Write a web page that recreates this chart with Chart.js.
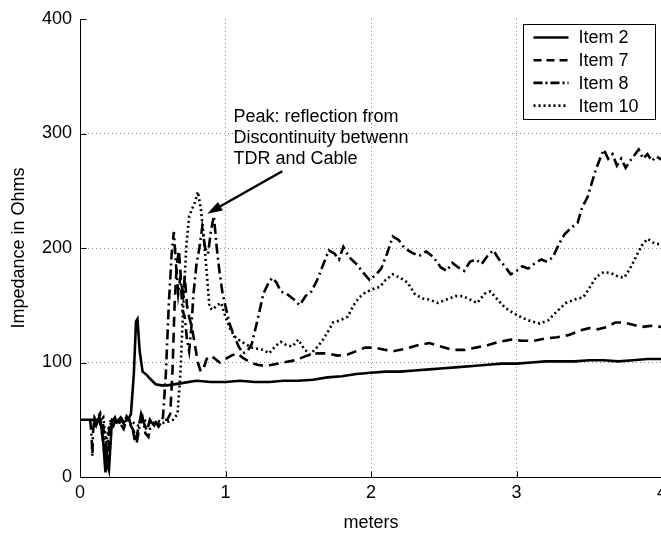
<!DOCTYPE html>
<html>
<head>
<meta charset="utf-8">
<script src="https://cdn.jsdelivr.net/npm/chart.js@4.4.0/dist/chart.umd.min.js"></script>
<style>
    html, body { margin: 0; padding: 0; background: #fff; overflow: hidden; }
    #wrap { position: relative; width: 662px; height: 534px; }
</style>
</head>
<body>
<div id="wrap"><canvas id="chart"></canvas></div>
<script>
// TDR impedance profile

const xTicks = [0, 1, 2, 3, 4];
const yTicks = [0, 100, 200, 300, 400];

// Item 2 (solid)
const item2X = [0, 0.1, 0.14, 0.16, 0.175, 0.185, 0.2, 0.22, 0.25, 0.28, 0.3, 0.33, 0.35, 0.37, 0.385, 0.395, 0.41, 0.43, 0.46, 0.48, 0.52, 0.56, 0.6, 0.7, 0.8, 0.9, 1.0, 1.1, 1.2, 1.3, 1.4, 1.5, 1.6, 1.7, 1.8, 1.9, 2.0, 2.1, 2.2, 2.3, 2.4, 2.5, 2.6, 2.7, 2.8, 2.9, 3.0, 3.1, 3.2, 3.3, 3.4, 3.5, 3.6, 3.7, 3.8, 3.9, 4.0];
const item2Y = [50, 50, 50, 30, 4, 20, 8, 50, 48, 52, 48, 50, 55, 90, 136, 138, 110, 92, 89, 86, 81, 80, 80, 82, 84, 83, 83, 84, 83, 83, 84, 84, 85, 87, 88, 90, 91, 92, 92, 93, 94, 95, 96, 97, 98, 99, 99, 100, 101, 101, 101, 102, 102, 101, 102, 103, 103];

// Item 7 (dashed)
const item7X = [0.09, 0.11, 0.13, 0.15, 0.17, 0.19, 0.2, 0.22, 0.24, 0.26, 0.28, 0.3, 0.32, 0.34, 0.36, 0.38, 0.4, 0.42, 0.44, 0.46, 0.48, 0.5, 0.52, 0.54, 0.56, 0.58, 0.6, 0.62, 0.635, 0.65, 0.665, 0.68, 0.695, 0.71, 0.72, 0.735, 0.75, 0.77, 0.79, 0.81, 0.83, 0.85, 0.87, 0.9, 0.93, 0.96, 1.0, 1.04, 1.08, 1.12, 1.17, 1.22, 1.27, 1.32, 1.4, 1.48, 1.56, 1.63, 1.7, 1.77, 1.84, 1.9, 1.96, 2.02, 2.1, 2.16, 2.24, 2.32, 2.4, 2.48, 2.56, 2.64, 2.72, 2.8, 2.88, 2.96, 3.04, 3.12, 3.2, 3.28, 3.36, 3.44, 3.5, 3.56, 3.62, 3.68, 3.74, 3.8, 3.86, 3.92, 4.0];
const item7Y = [50, 45, 53, 40, 20, 10, 35, 48, 52, 44, 50, 47, 53, 49, 43, 30, 42, 55, 47, 40, 50, 46, 48, 44, 48, 50, 50, 55, 90, 150, 185, 198, 170, 160, 175, 150, 140, 130, 115, 100, 92, 95, 103, 106, 103, 100, 103, 106, 108, 104, 100, 98, 97, 98, 100, 102, 106, 108, 108, 106, 107, 110, 113, 113, 111, 110, 112, 115, 117, 114, 111, 111, 113, 115, 118, 120, 119, 119, 121, 122, 124, 128, 130, 129, 131, 135, 135, 133, 131, 132, 131];

// Item 8 (dash-dot)
const item8X = [0.07, 0.08, 0.085, 0.09, 0.1, 0.12, 0.14, 0.16, 0.18, 0.19, 0.21, 0.23, 0.25, 0.27, 0.3, 0.32, 0.34, 0.37, 0.39, 0.41, 0.43, 0.45, 0.47, 0.49, 0.51, 0.53, 0.55, 0.57, 0.59, 0.61, 0.63, 0.645, 0.66, 0.675, 0.69, 0.705, 0.72, 0.735, 0.75, 0.765, 0.78, 0.8, 0.82, 0.84, 0.86, 0.88, 0.9, 0.92, 0.94, 0.96, 0.98, 1.0, 1.03, 1.06, 1.09, 1.12, 1.15, 1.18, 1.22, 1.26, 1.29, 1.32, 1.35, 1.38, 1.42, 1.47, 1.51, 1.55, 1.59, 1.63, 1.67, 1.71, 1.75, 1.78, 1.81, 1.85, 1.9, 1.95, 1.99, 2.03, 2.07, 2.11, 2.15, 2.19, 2.23, 2.28, 2.33, 2.38, 2.43, 2.48, 2.52, 2.56, 2.6, 2.64, 2.68, 2.72, 2.76, 2.8, 2.84, 2.88, 2.92, 2.96, 3.0, 3.04, 3.08, 3.12, 3.17, 3.21, 3.25, 3.29, 3.33, 3.38, 3.42, 3.45, 3.49, 3.52, 3.55, 3.58, 3.6, 3.63, 3.66, 3.69, 3.72, 3.75, 3.78, 3.81, 3.84, 3.87, 3.9, 3.93, 3.96, 4.0];
const item8Y = [50, 35, 18, 40, 52, 48, 55, 45, 15, 30, 50, 45, 52, 48, 42, 50, 47, 40, 30, 45, 52, 38, 35, 48, 45, 50, 48, 52, 90, 150, 195, 214, 185, 160, 175, 145, 140, 120, 110, 130, 160, 185, 200, 218, 200, 195, 215, 228, 200, 178, 160, 149, 133, 123, 114, 108, 110, 116, 137, 160, 168, 174, 170, 162, 160, 155, 150, 158, 162, 172, 185, 198, 195, 190, 201, 192, 186, 178, 172, 176, 182, 195, 210, 207, 200, 196, 193, 197, 192, 183, 180, 187, 183, 180, 188, 190, 186, 193, 198, 190, 184, 177, 180, 184, 182, 186, 190, 188, 192, 203, 212, 218, 222, 235, 245, 258, 270, 280, 286, 278, 282, 272, 278, 270, 276, 281, 286, 278, 282, 276, 280, 277];

// Item 10 (dotted)
const item10X = [0.1, 0.13, 0.16, 0.18, 0.2, 0.24, 0.28, 0.32, 0.36, 0.4, 0.44, 0.48, 0.52, 0.56, 0.6, 0.64, 0.67, 0.69, 0.71, 0.73, 0.75, 0.77, 0.79, 0.81, 0.83, 0.85, 0.87, 0.89, 0.91, 0.94, 0.97, 1.0, 1.03, 1.06, 1.1, 1.14, 1.18, 1.22, 1.26, 1.3, 1.34, 1.38, 1.42, 1.46, 1.5, 1.54, 1.58, 1.62, 1.66, 1.7, 1.74, 1.79, 1.84, 1.88, 1.92, 1.96, 2.01, 2.06, 2.1, 2.15, 2.2, 2.25, 2.3, 2.35, 2.4, 2.46, 2.52, 2.58, 2.63, 2.68, 2.73, 2.78, 2.82, 2.87, 2.92, 2.98, 3.04, 3.1, 3.16, 3.22, 3.28, 3.34, 3.4, 3.46, 3.5, 3.55, 3.6, 3.65, 3.7, 3.74, 3.78, 3.82, 3.86, 3.9, 3.95, 4.0];
const item10Y = [50, 48, 52, 30, 45, 50, 47, 52, 48, 45, 50, 46, 48, 47, 48, 50, 55, 90, 150, 200, 228, 234, 240, 249, 235, 210, 180, 148, 146, 150, 152, 140, 130, 123, 119, 116, 113, 112, 111, 108, 114, 118, 115, 114, 120, 112, 107, 112, 118, 126, 135, 137, 140, 150, 157, 161, 164, 166, 172, 177, 174, 170, 160, 156, 155, 152, 155, 158, 158, 155, 152, 160, 162, 155, 148, 143, 139, 136, 134, 137, 145, 152, 155, 157, 165, 175, 179, 178, 175, 174, 182, 192, 202, 208, 204, 203];

const seriesLabels = ['Item 2', 'Item 7', 'Item 8', 'Item 10'];

// annotation (data units)
const noteLines = ['Peak: reflection from', 'Discontinuity betwenn', 'TDR and Cable'];
const noteAt = [1.055, 310];
const arrowFrom = [1.39, 267];
const arrowTo = [0.875, 230];

const FONT = '"Liberation Sans", Arial, sans-serif';
const dashes = [[], [10, 6], [10, 4, 2, 4], [2, 3]];
const legendDashes = [[], [8, 5], [9, 3, 2, 3], [2, 3]];

function toPoints(xs, ys) {
    return xs.map((x, i) => ({ x: x, y: ys[i] }));
}

const seriesData = [
    toPoints(item2X, item2Y),
    toPoints(item7X, item7Y),
    toPoints(item8X, item8Y),
    toPoints(item10X, item10Y)
];

const overlay = {
    id: 'overlay',
    afterDraw: function(chart) {
        const ctx = chart.ctx;
        const sx = chart.scales.x;
        const sy = chart.scales.y;
        const area = chart.chartArea;
        const L = Math.round(area.left) + 0.5;
        const B = Math.round(area.bottom) + 0.5;

        ctx.save();
        ctx.strokeStyle = '#000';
        ctx.lineWidth = 1;
        ctx.setLineDash([]);

        // axis lines and inner ticks
        ctx.beginPath();
        ctx.moveTo(L, area.top);
        ctx.lineTo(L, B);
        ctx.lineTo(area.right, B);
        yTicks.forEach(v => {
            const py = Math.round(sy.getPixelForValue(v)) + 0.5;
            ctx.moveTo(L, py);
            ctx.lineTo(L + 6, py);
        });
        xTicks.forEach(v => {
            const px = Math.round(sx.getPixelForValue(v)) + 0.5;
            ctx.moveTo(px, B);
            ctx.lineTo(px, B - 6);
        });
        ctx.stroke();

        // annotation text
        ctx.fillStyle = '#000';
        ctx.font = '18px ' + FONT;
        ctx.textAlign = 'left';
        ctx.textBaseline = 'alphabetic';
        const tx = sx.getPixelForValue(noteAt[0]);
        const ty = sy.getPixelForValue(noteAt[1]);
        noteLines.forEach((t, i) => ctx.fillText(t, tx, ty + i * 21));

        // arrow
        const ax0 = sx.getPixelForValue(arrowFrom[0]);
        const ay0 = sy.getPixelForValue(arrowFrom[1]);
        const ax1 = sx.getPixelForValue(arrowTo[0]);
        const ay1 = sy.getPixelForValue(arrowTo[1]);
        const ang = Math.atan2(ay1 - ay0, ax1 - ax0);
        const headLen = 15, headW = 5;
        ctx.lineWidth = 2.5;
        ctx.beginPath();
        ctx.moveTo(ax0, ay0);
        ctx.lineTo(ax1 - Math.cos(ang) * headLen * 0.8, ay1 - Math.sin(ang) * headLen * 0.8);
        ctx.stroke();
        ctx.beginPath();
        ctx.moveTo(ax1, ay1);
        ctx.lineTo(ax1 - Math.cos(ang) * headLen + Math.sin(ang) * headW, ay1 - Math.sin(ang) * headLen - Math.cos(ang) * headW);
        ctx.lineTo(ax1 - Math.cos(ang) * headLen - Math.sin(ang) * headW, ay1 - Math.sin(ang) * headLen + Math.cos(ang) * headW);
        ctx.closePath();
        ctx.fill();

        // legend box
        const bw = 132, bh = 95;
        const bx = Math.round(area.right - 7 - bw) + 0.5;
        const by = Math.round(area.top + 5) + 0.5;
        ctx.fillStyle = '#fff';
        ctx.fillRect(bx, by, bw, bh);
        ctx.lineWidth = 1;
        ctx.strokeRect(bx, by, bw, bh);
        ctx.textBaseline = 'middle';
        ctx.fillStyle = '#000';
        seriesLabels.forEach((label, i) => {
            const ry = by + 13 + i * 22.7;
            ctx.lineWidth = 2.6;
            ctx.setLineDash(legendDashes[i]);
            ctx.beginPath();
            ctx.moveTo(bx + 10, ry);
            ctx.lineTo(bx + 45, ry);
            ctx.stroke();
            ctx.setLineDash([]);
            ctx.fillText(label, bx + 55, ry + 1);
        });
        ctx.restore();
    }
};

const gridColor = function(ctx) {
    const v = ctx.tick ? ctx.tick.value : null;
    const scale = ctx.scale;
    if (v === scale.min || v === scale.max) return 'rgba(0,0,0,0)';
    return '#8a8a8a';
};

new Chart(document.getElementById('chart'), {
    type: 'line',
    data: {
        datasets: seriesLabels.map((label, i) => ({
            label: label,
            data: seriesData[i],
            borderColor: '#000',
            borderWidth: 2.6,
            borderDash: dashes[i],
            borderCapStyle: 'butt',
            pointRadius: 0,
            tension: 0,
            fill: false
        }))
    },
    options: {
        responsive: true,
        maintainAspectRatio: false,
        animation: false,
        events: [],
        layout: { padding: { top: 19, right: 0, left: 0, bottom: 0 } },
        plugins: {
            legend: { display: false },
            tooltip: { enabled: false }
        },
        scales: {
            x: {
                type: 'linear',
                min: 0,
                max: 4,
                afterFit: function(scale) {
                    scale.height = 57;
                    scale.paddingLeft = 0;
                    scale.paddingRight = 0;
                },
                afterBuildTicks: function(scale) {
                    scale.ticks = xTicks.map(v => ({ value: v }));
                },
                grid: { color: gridColor, lineWidth: 1, drawTicks: false },
                border: { display: false, dash: [1, 3] },
                ticks: { color: '#000', padding: 5, maxRotation: 0, font: { family: FONT, size: 18 } },
                title: {
                    display: true,
                    text: 'meters',
                    color: '#000',
                    padding: { top: 0, bottom: 0 },
                    font: { family: FONT, size: 18 }
                }
            },
            y: {
                min: 0,
                max: 400,
                afterFit: function(scale) {
                    scale.width = 80;
                },
                afterBuildTicks: function(scale) {
                    scale.ticks = yTicks.map(v => ({ value: v }));
                },
                grid: { color: gridColor, lineWidth: 1, drawTicks: false },
                border: { display: false, dash: [1, 3] },
                ticks: { color: '#000', padding: 8, font: { family: FONT, size: 18 } },
                title: {
                    display: true,
                    text: 'Impedance in Ohms',
                    color: '#000',
                    padding: { top: 8, bottom: 0 },
                    font: { family: FONT, size: 18 }
                }
            }
        }
    },
    plugins: [overlay]
});
</script>
</body>
</html>
